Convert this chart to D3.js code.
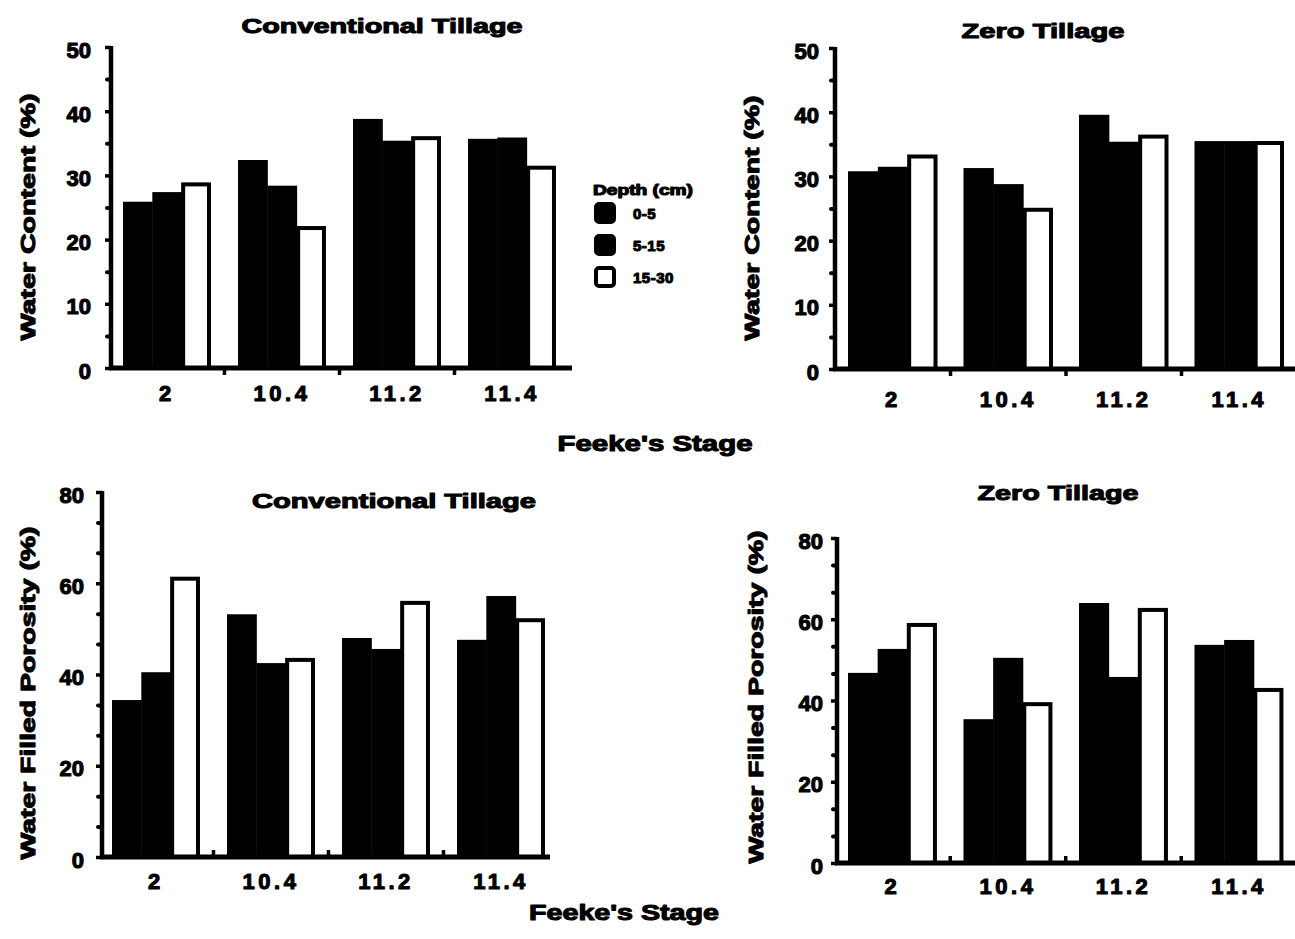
<!DOCTYPE html>
<html>
<head>
<meta charset="utf-8">
<script src="https://cdn.jsdelivr.net/npm/d3@7"></script>
<style>
  html, body { margin: 0; padding: 0; background: #fff; }
  svg { display: block; }
  text { font-family: "Liberation Sans", Arial, sans-serif; font-weight: bold; fill: #000; stroke: #000; stroke-width: 1.1px; stroke-linejoin: round; }
</style>
</head>
<body>
<svg id="chart" width="1295" height="939"></svg>
<script>
// ---------- data ----------
const stages = ["2", "10.4", "11.2", "11.4"];
const depths = ["0-5", "5-15", "15-30"];

// Water content (%) - conventional tillage
const wcConv_0_5   = [25.9, 32.4, 38.8, 35.7];
const wcConv_5_15  = [27.4, 28.4, 35.4, 35.9];
const wcConv_15_30 = [28.6, 21.8, 35.8, 31.2];
// Water content (%) - zero tillage
const wcZero_0_5   = [30.8, 31.3, 39.6, 35.5];
const wcZero_5_15  = [31.5, 28.8, 35.4, 35.5];
const wcZero_15_30 = [33.1, 24.8, 36.2, 35.2];
// Water filled porosity (%) - conventional tillage
const wfpConv_0_5   = [34.4, 53.2, 48.0, 47.6];
const wfpConv_5_15  = [40.5, 42.5, 45.6, 57.2];
const wfpConv_15_30 = [61.0, 43.2, 55.7, 51.9];
// Water filled porosity (%) - zero tillage
const wfpZero_0_5   = [46.8, 35.4, 64.0, 53.7];
const wfpZero_5_15  = [52.7, 50.5, 45.8, 54.9];
const wfpZero_15_30 = [58.6, 39.1, 62.3, 42.6];

const wcTicks  = [0, 10, 20, 30, 40, 50];
const wcMinor  = [5, 15, 25, 35, 45];
const wfpTicks = [0, 20, 40, 60, 80];
const wfpMinor = [20/3, 40/3, 80/3, 100/3, 140/3, 160/3, 200/3, 220/3];

const titleConv = "Conventional  Tillage";
const titleZero = "Zero  Tillage";
const yLabelWC = "Water Content (%)";
const yLabelWFP = "Water Filled Porosity (%)";
const xLabel = "Feeke's  Stage";
const legendTitle = "Depth (cm)";

// ---------- drawing ----------
const svg = d3.select("#chart");

function panel(c) {
  const g = svg.append("g");
  const y = d3.scaleLinear().domain([0, c.ymax]).range([c.y0, c.yTop]);
  const half = c.step * c.pi / 2;
  const x = d3.scaleBand().domain(stages)
    .range([c.g0 - half, c.g0 - half + 4 * c.step])
    .paddingInner(c.pi).paddingOuter(c.pi / 2);
  const xd = d3.scaleBand().domain(depths).range([0, x.bandwidth()]).padding(0);

  const rows = [];
  stages.forEach((s, i) => depths.forEach((d, j) => rows.push({ s, d, j, v: c.series[j][i] })));

  g.selectAll("rect.bar").data(rows).join("rect")
    .attr("class", "bar")
    .attr("x", r => x(r.s) + xd(r.d) + (r.j === 2 ? 1.5 : 0))
    .attr("width", r => xd.bandwidth() - (r.j === 2 ? 3.5 : -0.5))
    .attr("y", r => y(r.v))
    .attr("height", r => c.y0 - y(r.v))
    .attr("fill", r => r.j === 2 ? "#fff" : "#000")
    .attr("stroke", r => r.j === 2 ? "#000" : "none")
    .attr("stroke-width", 4);

  // y axis (major)
  const ya = g.append("g").attr("transform", `translate(${c.ax},0)`)
    .call(d3.axisLeft(y).tickValues(c.ticks).tickSize(6).tickSizeOuter(0).tickPadding(c.labPad));
  ya.select(".domain").attr("stroke", "#000").attr("stroke-width", 4.5)
    .attr("d", `M0,${c.y0 + 2}V${c.yTop - 1}`);
  ya.selectAll(".tick line").attr("stroke", "#000").attr("stroke-width", 3.5);
  ya.selectAll(".tick text").attr("font-size", 22).attr("dy", "0.32em")
    .attr("transform", "translate(0,3)");
  // y axis minor ticks (dots)
  const ym = g.append("g").attr("transform", `translate(${c.ax},0)`)
    .call(d3.axisLeft(y).tickValues(c.minor).tickSize(4).tickFormat(""));
  ym.select(".domain").remove();
  ym.selectAll(".tick line").attr("stroke", "#000").attr("stroke-width", 4).attr("stroke-linecap", "round");

  // x axis
  const xa = g.append("g").attr("transform", `translate(0,${c.y0})`)
    .call(d3.axisBottom(x).tickSize(0).tickPadding(c.xPad));
  xa.select(".domain").attr("stroke", "#000").attr("stroke-width", 5)
    .attr("d", `M${c.ax - 2},0H${c.axEnd}`);
  xa.selectAll(".tick text").attr("font-size", 22).attr("letter-spacing", 3.5);
  const bounds = stages.slice(1).map(s => x(s) - c.step * c.pi / 2);
  g.selectAll("line.gb").data(bounds).join("line")
    .attr("x1", d => d).attr("x2", d => d)
    .attr("y1", c.y0).attr("y2", c.y0 + c.tickDir * 7)
    .attr("stroke", "#000").attr("stroke-width", 3.5);

  // title
  g.append("text").attr("x", c.tx).attr("y", c.ty).attr("text-anchor", "middle")
    .attr("dominant-baseline", "central").attr("font-size", 21)
    .attr("textLength", c.tlen).attr("lengthAdjust", "spacingAndGlyphs").text(c.title);
  // y label
  g.append("text").attr("transform", `translate(${c.ylx},${c.yly}) rotate(-90)`)
    .attr("text-anchor", "middle").attr("dominant-baseline", "central").attr("font-size", 21)
    .attr("textLength", c.ylen).attr("lengthAdjust", "spacingAndGlyphs").text(c.ylabel);
}

panel({ series: [wcConv_0_5, wcConv_5_15, wcConv_15_30], ymax: 50, ticks: wcTicks, minor: wcMinor,
  ax: 111, axEnd: 572, g0: 123, step: 115, pi: 0.235, y0: 368, yTop: 47, labPad: 14, xPad: 17, tickDir: 1,
  title: titleConv, tx: 382, ty: 25, tlen: 281, ylabel: yLabelWC, ylx: 27, yly: 217, ylen: 247 });

panel({ series: [wcZero_0_5, wcZero_5_15, wcZero_15_30], ymax: 50, ticks: wcTicks, minor: wcMinor,
  ax: 835, axEnd: 1295, g0: 848, step: 115.5, pi: 0.225, y0: 369, yTop: 48, labPad: 10, xPad: 22, tickDir: 1,
  title: titleZero, tx: 1043, ty: 30, tlen: 163, ylabel: yLabelWC, ylx: 751, yly: 218, ylen: 245 });

panel({ series: [wfpConv_0_5, wfpConv_5_15, wfpConv_15_30], ymax: 80, ticks: wfpTicks, minor: wfpMinor,
  ax: 102, axEnd: 550, g0: 112, step: 115, pi: 0.235, y0: 857, yTop: 492, labPad: 12, xPad: 16, tickDir: -1,
  title: titleConv, tx: 394, ty: 500, tlen: 284, ylabel: yLabelWFP, ylx: 27, yly: 693, ylen: 333 });

panel({ series: [wfpZero_0_5, wfpZero_5_15, wfpZero_15_30], ymax: 80, ticks: wfpTicks, minor: wfpMinor,
  ax: 837, axEnd: 1295, g0: 848, step: 115.5, pi: 0.23, y0: 863, yTop: 538, labPad: 8, xPad: 15, tickDir: -1,
  title: titleZero, tx: 1058, ty: 492, tlen: 161, ylabel: yLabelWFP, ylx: 755, yly: 697, ylen: 333 });

// shared x labels
svg.append("text").attr("x", 655).attr("y", 443).attr("text-anchor", "middle")
  .attr("dominant-baseline", "central").attr("font-size", 22)
  .attr("textLength", 195).attr("lengthAdjust", "spacingAndGlyphs").text(xLabel);
svg.append("text").attr("x", 624).attr("y", 912).attr("text-anchor", "middle")
  .attr("dominant-baseline", "central").attr("font-size", 22)
  .attr("textLength", 190).attr("lengthAdjust", "spacingAndGlyphs").text(xLabel);

// legend
const leg = svg.append("g");
leg.append("text").attr("x", 593).attr("y", 190).attr("dominant-baseline", "central")
  .attr("font-size", 14).attr("textLength", 100).attr("lengthAdjust", "spacingAndGlyphs").text(legendTitle);
const legY = d3.scalePoint().domain(depths).range([213, 277]);
leg.selectAll("rect").data(depths).join("rect")
  .attr("x", 596).attr("y", d => legY(d) - 9).attr("width", 18).attr("height", 18).attr("rx", 3)
  .attr("fill", (d, i) => i === 2 ? "#fff" : "#000")
  .attr("stroke", "#000").attr("stroke-width", 4);
leg.selectAll("text.li").data(depths).join("text").attr("class", "li")
  .attr("x", 633).attr("y", d => legY(d)).attr("dominant-baseline", "central")
  .attr("font-size", 15).attr("letter-spacing", 0.5).text(d => d);
</script>
</body>
</html>
